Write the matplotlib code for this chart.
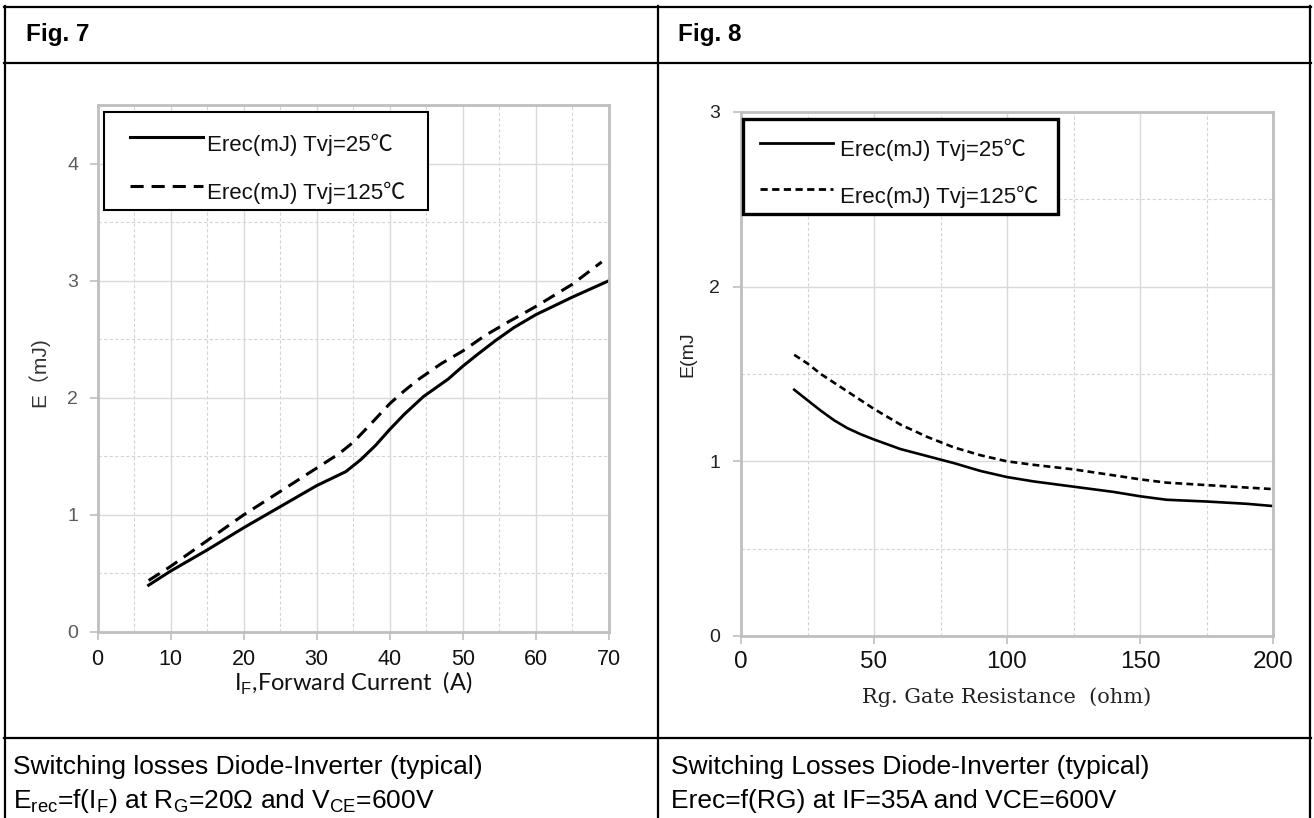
import matplotlib
matplotlib.use('Agg')
import matplotlib.pyplot as plt
from matplotlib.lines import Line2D
from matplotlib.patches import Rectangle
from matplotlib.ticker import MultipleLocator

plt.rcParams['mathtext.fontset'] = 'custom'
plt.rcParams['mathtext.rm'] = 'Liberation Sans'

SANS = ['Liberation Sans', 'Noto Sans CJK JP']

# Fig. 7 : Erec vs forward current
if_25 = [7, 10, 15, 20, 25, 30, 32, 34, 36, 38, 40, 42, 44.6, 48, 50, 52, 54.5, 57, 60, 65, 70]
erec_if_25 = [0.40, 0.52, 0.70, 0.89, 1.07, 1.25, 1.31, 1.37, 1.47, 1.59, 1.73, 1.86, 2.01, 2.16,
              2.27, 2.37, 2.49, 2.60, 2.71, 2.86, 3.00]
if_125 = [7, 10, 15, 20, 25, 30, 33, 35, 37, 40, 42, 44, 47, 50, 53, 56, 60, 65, 69]
erec_if_125 = [0.44, 0.56, 0.78, 1.00, 1.20, 1.40, 1.52, 1.62, 1.75, 1.95, 2.06, 2.16, 2.29,
               2.40, 2.53, 2.64, 2.78, 2.97, 3.16]

# Fig. 8 : Erec vs gate resistance
rg_25 = [20, 25, 30, 35, 40, 45, 50, 60, 70, 80, 90, 100, 110, 125, 140, 150, 160, 175, 190, 200]
erec_rg_25 = [1.41, 1.35, 1.29, 1.235, 1.19, 1.155, 1.125, 1.07, 1.03, 0.99, 0.945, 0.91, 0.885,
              0.855, 0.825, 0.80, 0.78, 0.77, 0.757, 0.744]
rg_125 = [20, 25, 30, 35, 40, 50, 60, 70, 75, 80, 90, 100, 110, 125, 140, 150, 160, 175, 190, 200]
erec_rg_125 = [1.61, 1.56, 1.50, 1.45, 1.40, 1.30, 1.21, 1.14, 1.11, 1.08, 1.035, 1.00, 0.98,
               0.954, 0.92, 0.897, 0.878, 0.864, 0.85, 0.841]

legend_labels = ['Erec(mJ) Tvj=25\u2103', 'Erec(mJ) Tvj=125\u2103']
headers = ['Fig. 7', 'Fig. 8']
captions_7 = ['Switching losses Diode-Inverter (typical)',
              'E$_\\mathrm{rec}$=f(I$_\\mathrm{F}$) at R$_\\mathrm{G}$=20\u03a9 and V$_\\mathrm{CE}$=600V']
captions_8 = ['Switching Losses Diode-Inverter (typical)',
              'Erec=f(RG) at IF=35A and VCE=600V']

W, H = 1314, 818
fig = plt.figure(figsize=(W / 100, H / 100), dpi=100)


def fx(px):
    return px / W


def fy(py):
    return 1 - py / H


def hline(y, x0, x1):
    fig.add_artist(Line2D([fx(x0), fx(x1)], [fy(y), fy(y)], color='black', lw=1.6))


def vline(x, y0, y1):
    fig.add_artist(Line2D([fx(x), fx(x)], [fy(y0), fy(y1)], color='black', lw=1.6))


# table frame
hline(7, 4, 1311)
hline(63, 4, 1311)
hline(738, 4, 1311)
vline(5, 6, 818)
vline(658, 6, 818)
vline(1310, 6, 818)

fig.text(fx(26), fy(35), headers[0], fontsize=17.5, fontweight='bold', family=SANS, va='center')
fig.text(fx(678), fy(35), headers[1], fontsize=17.5, fontweight='bold', family=SANS, va='center')
fig.text(fx(13), fy(767), captions_7[0], fontsize=19, family=SANS, va='center')
fig.text(fx(13), fy(801), captions_7[1], fontsize=19, family=SANS, va='center')
fig.text(fx(671), fy(767), captions_8[0], fontsize=19, family=SANS, va='center')
fig.text(fx(671), fy(801), captions_8[1], fontsize=19, family=SANS, va='center')


def style_axes(ax):
    for s in ax.spines.values():
        s.set_color('#bfbfbf')
        s.set_linewidth(2)
    ax.set_axisbelow(True)
    ax.grid(which='major', color='#d9d9d9', lw=1.0)
    ax.grid(which='minor', color='#d4d4d4', lw=0.8, ls=(0, (3, 2)))
    ax.tick_params(which='major', direction='out', length=6, color='#bfbfbf', width=1.2)
    ax.tick_params(which='minor', length=0)


def draw_legend(ax, box, rows, fontsize, frame_lw):
    x0, y0, x1, y1 = box
    ax.add_patch(Rectangle((x0, y0), x1 - x0, y1 - y0, transform=ax.transAxes, fill=True,
                           facecolor='white', edgecolor='black', lw=frame_lw, zorder=5))
    for hx0, hx1, hy, tx, ty, style, lw, label in rows:
        ax.plot([hx0, hx1], [hy, hy], transform=ax.transAxes, color='black', lw=lw,
                ls=style, zorder=6, clip_on=False)
        ax.text(tx, ty, label, transform=ax.transAxes, fontsize=fontsize, family=SANS,
                va='center', ha='left', zorder=6, color='#111111')


# ---- Fig. 7 ----
ax1 = fig.add_axes([fx(97.5), fy(632), fx(609) - fx(97.5), fy(105) - fy(632)])
style_axes(ax1)
dash7 = (0, (4.3, 2.6))
ax1.plot(if_25, erec_if_25, color='black', lw=2.2)
ax1.plot(if_125, erec_if_125, color='black', lw=2.2, ls=dash7)
ax1.set_xlim(0, 70)
ax1.set_ylim(0, 4.5)
ax1.xaxis.set_major_locator(MultipleLocator(10))
ax1.xaxis.set_minor_locator(MultipleLocator(5))
ax1.yaxis.set_major_locator(MultipleLocator(1))
ax1.yaxis.set_minor_locator(MultipleLocator(0.5))
ax1.tick_params(axis='y', labelsize=14, labelcolor='#5a5a5a', pad=8)
ax1.tick_params(axis='x', labelsize=15.5, labelcolor='#111111', pad=6)
for t in ax1.get_xticklabels() + ax1.get_yticklabels():
    t.set_family(SANS)
ax1.set_ylabel('E\uff08mJ)', fontsize=15, family=SANS, color='#333333')
ax1.yaxis.set_label_coords(-0.116, 0.493)
ax1.yaxis.label.set_va('center')
ax1.set_xlabel(r'I$_\mathrm{F}$,Forward Current  (A)', fontsize=17, family='Lato', color='#111111')
ax1.xaxis.set_label_coords(0.5, -0.097)
ax1.xaxis.label.set_va('center')
draw_legend(ax1, (0.0127, 0.8008, 0.646, 0.9867), [
    (0.0626, 0.2053, 0.939, 0.214, 0.924, '-', 2.2, legend_labels[0]),
    (0.0626, 0.2053, 0.846, 0.214, 0.833, dash7, 2.2, legend_labels[1]),
], 16, 1.5)

# ---- Fig. 8 ----
ax2 = fig.add_axes([fx(741), fy(636), fx(1273) - fx(741), fy(112) - fy(636)])
style_axes(ax2)
dash8 = (0, (2.6, 1.6))
ax2.plot(rg_25, erec_rg_25, color='black', lw=1.9)
ax2.plot(rg_125, erec_rg_125, color='black', lw=1.9, ls=dash8)
ax2.set_xlim(0, 200)
ax2.set_ylim(0, 3)
ax2.xaxis.set_major_locator(MultipleLocator(50))
ax2.xaxis.set_minor_locator(MultipleLocator(25))
ax2.yaxis.set_major_locator(MultipleLocator(1))
ax2.yaxis.set_minor_locator(MultipleLocator(0.5))
ax2.tick_params(axis='y', labelsize=14, labelcolor='#222222', pad=9)
ax2.tick_params(axis='x', labelsize=17.5, labelcolor='#111111', pad=5)
for t in ax2.get_xticklabels() + ax2.get_yticklabels():
    t.set_family(SANS)
ax2.set_ylabel('E(mJ', fontsize=14, family=SANS, color='#222222')
ax2.yaxis.set_label_coords(-0.0996, 0.538)
ax2.yaxis.label.set_va('center')
ax2.set_xlabel('Rg. Gate Resistance  (ohm)', fontsize=15, family='DejaVu Serif', color='#222222')
ax2.xaxis.set_label_coords(0.5, -0.116)
ax2.xaxis.label.set_va('center')
draw_legend(ax2, (0.0038, 0.805, 0.596, 0.9866), [
    (0.0357, 0.173, 0.941, 0.186, 0.9275, '-', 2.0, legend_labels[0]),
    (0.0357, 0.173, 0.853, 0.186, 0.838, dash8, 2.0, legend_labels[1]),
], 16, 2.4)

fig.savefig('out.png', dpi=100)
